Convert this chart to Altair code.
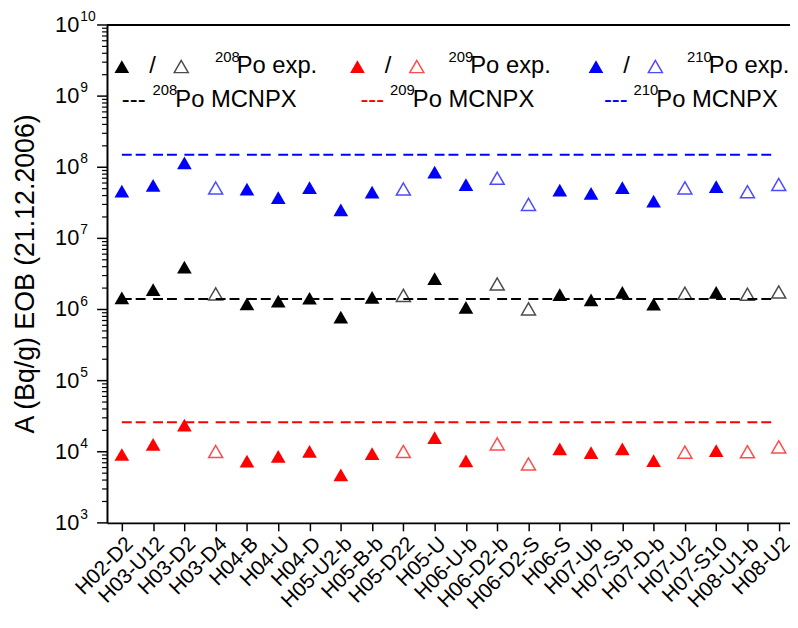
import altair as alt
import pandas as pd

samples = ["H02-D2", "H03-U12", "H03-D2", "H03-D4", "H04-B", "H04-U", "H04-D",
           "H05-U2-b", "H05-B-b", "H05-D22", "H05-U", "H06-U-b", "H06-D2-b",
           "H06-D2-S", "H06-S", "H07-Ub", "H07-S-b", "H07-D-b", "H07-U2",
           "H07-S10", "H08-U1-b", "H08-U2"]
open_marker = [False, False, False, True, False, False, False, False, False, True,
               False, False, True, True, False, False, False, False, True, False,
               True, True]
po208 = [1.46e6, 1.90e6, 3.94e6, 1.66e6, 1.20e6, 1.31e6, 1.44e6, 7.8e5, 1.48e6,
         1.58e6, 2.72e6, 1.07e6, 2.28e6, 1.02e6, 1.62e6, 1.37e6, 1.74e6, 1.19e6,
         1.69e6, 1.74e6, 1.64e6, 1.76e6]
po209 = [9.15e3, 1.27e4, 2.37e4, 1.01e4, 7.37e3, 8.64e3, 1.01e4, 4.72e3, 9.42e3,
         1.01e4, 1.58e4, 7.42e3, 1.29e4, 6.74e3, 1.10e4, 9.75e3, 1.10e4, 7.49e3,
         9.88e3, 1.04e4, 1.00e4, 1.17e4]
po210 = [4.60e7, 5.57e7, 1.15e8, 5.10e7, 4.94e7, 3.74e7, 5.18e7, 2.52e7, 4.46e7,
         4.94e7, 8.53e7, 5.70e7, 7.00e7, 3.01e7, 4.78e7, 4.28e7, 5.18e7, 3.35e7,
         5.13e7, 5.35e7, 4.52e7, 5.73e7]
isotopes = ["208Po", "209Po", "210Po"]
colors = ["#000000", "#ff0000", "#0000ff"]
mcnpx = [1.4e6, 2.6e4, 1.5e8]
decades = [3, 4, 5, 6, 7, 8, 9, 10]

FONT = "Liberation Sans"
W, H = 690, 503

rows = []
for iso, vals in zip(isotopes, [po208, po209, po210]):
    for i, (s, v, o) in enumerate(zip(samples, vals, open_marker)):
        rows.append({"idx": i, "sample": s, "isotope": iso, "value": v, "open": o})
df = pd.DataFrame(rows)
df_m = pd.DataFrame({"isotope": isotopes, "value": mcnpx,
                     "x0": [0] * 3, "x1": [len(samples) - 1] * 3})
df_major = pd.DataFrame({"value": [10.0 ** d for d in decades],
                         "exp": [str(d) for d in decades]})
df_minor = pd.DataFrame({"value": [m * 10.0 ** d for d in decades[:-1] for m in range(2, 10)]})
dummy = pd.DataFrame({"a": [0]})

label_arr = "[" + ",".join("'" + s + "'" for s in samples) + "]"
xscale = alt.Scale(domain=[-0.4747, 21.36], nice=False, zero=False)
yscale = alt.Scale(type="log", domain=[1e3, 1e10], nice=False)
xaxis = alt.Axis(values=list(range(len(samples))), labelExpr=label_arr + "[datum.value]",
                 labelAngle=-45, labelFontSize=21, labelColor="black", labelFont=FONT,
                 labelOverlap=False, labelBound=False, labelFlush=False,
                 tickSize=8, tickWidth=1.5, tickColor="black", domainWidth=2,
                 domainColor="black", grid=False, title=None, labelPadding=2)
yaxis = alt.Axis(labels=False, ticks=False, grid=False, title=None, domainWidth=2,
                 domainColor="black")
color = alt.Color("isotope:N", scale=alt.Scale(domain=isotopes, range=colors), legend=None)

base = alt.Chart(df).encode(
    x=alt.X("idx:Q", scale=xscale, axis=xaxis),
    y=alt.Y("value:Q", scale=yscale, axis=yaxis),
    color=color,
)
filled = base.transform_filter("!datum.open").mark_point(
    shape="triangle-up", filled=True, size=220, opacity=1)
hollow = base.transform_filter("datum.open").mark_point(
    shape="triangle-up", filled=False, size=200, strokeWidth=1.5, opacity=0.7)

lines = alt.Chart(df_m).mark_rule(strokeWidth=2, strokeDash=[10, 4, 10, 7.6]).encode(
    x=alt.X("x0:Q", scale=xscale, axis=xaxis),
    x2="x1:Q",
    y=alt.Y("value:Q", scale=yscale, axis=yaxis),
    color=color,
)

major_ticks = alt.Chart(df_major).mark_rule(color="black", strokeWidth=1.5).encode(
    y=alt.Y("value:Q", scale=yscale, axis=yaxis), x=alt.value(-10), x2=alt.value(0))
minor_ticks = alt.Chart(df_minor).mark_rule(color="black", strokeWidth=1.2).encode(
    y=alt.Y("value:Q", scale=yscale, axis=yaxis), x=alt.value(-5), x2=alt.value(0))
ylab_base = alt.Chart(df_major).mark_text(
    align="right", baseline="middle", fontSize=22, font=FONT, color="black").encode(
    y=alt.Y("value:Q", scale=yscale, axis=yaxis), x=alt.value(-28), text=alt.value("10"))
ylab_exp = alt.Chart(df_major).mark_text(
    align="left", baseline="middle", fontSize=14, font=FONT, color="black", dy=-8).encode(
    y=alt.Y("value:Q", scale=yscale, axis=yaxis), x=alt.value(-27), text="exp:N")

ytitle = alt.Chart(dummy).mark_text(
    angle=270, align="center", baseline="middle", fontSize=27, font=FONT, color="black").encode(
    x=alt.value(-82), y=alt.value(H / 2), text=alt.value("A (Bq/g) EOB (21.12.2006)"))

top_frame = alt.Chart(dummy).mark_rule(color="black", strokeWidth=2).encode(
    x=alt.value(0), x2=alt.value(W), y=alt.value(0))


def txt(x, y, s, size=24, col="black", align="left"):
    return alt.Chart(dummy).mark_text(
        align=align, baseline="middle", fontSize=size, font=FONT, color=col).encode(
        x=alt.value(x), y=alt.value(y), text=alt.value(s))


def tri(x, y, col, fill):
    if fill:
        return alt.Chart(dummy).mark_point(
            shape="triangle-up", filled=True, size=220, color=col, opacity=1).encode(
            x=alt.value(x), y=alt.value(y))
    return alt.Chart(dummy).mark_point(
        shape="triangle-up", filled=False, size=200, strokeWidth=1.5, color=col,
        opacity=0.7).encode(x=alt.value(x), y=alt.value(y))


legend = []
row1, row2 = 42, 76
exp_x = [(15, 109), (253, 345), (494, 586)]
mc_x = [(15, 46), (256, 286), (502, 532)]
for iso, col, (tx, sx), (dx, msx) in zip(isotopes, colors, exp_x, mc_x):
    legend += [tri(tx, row1, col, True), txt(tx + 31, row1, "/", 24, "black", "center"),
               tri(tx + 60, row1, col, False),
               txt(sx, row1 - 10, iso[:3], 15), txt(sx + 22, row1, "Po exp.")]
    legend += [txt(dx, row2, "---", 24, col), txt(msx, row2 - 10, iso[:3], 15),
               txt(msx + 23, row2, "Po MCNPX")]

chart = alt.layer(
    lines, filled, hollow, major_ticks, minor_ticks, ylab_base, ylab_exp, ytitle,
    top_frame, *legend
).properties(
    width=W, height=H,
    autosize=alt.AutoSizeParams(type="none"),
    padding={"left": 100, "top": 14, "right": 0, "bottom": 100},
).configure_view(stroke=None).configure(font=FONT)

chart.save("out.html", embed_options={"renderer": "svg", "actions": False})
